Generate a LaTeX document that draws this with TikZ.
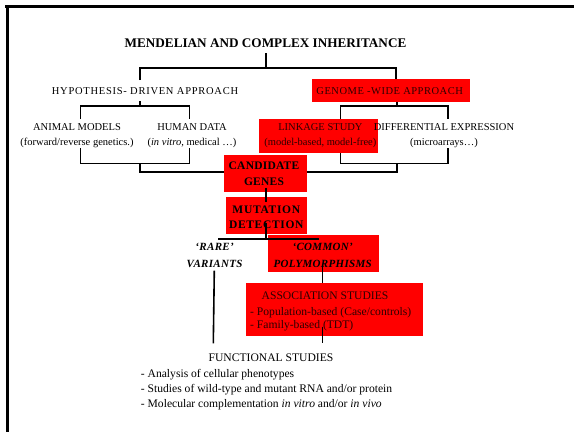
\documentclass[tikz,border=0pt]{standalone}
\usepackage{fontspec}
\setmainfont{Liberation Serif}
\definecolor{boxred}{RGB}{255,0,0}
\definecolor{ontext}{RGB}{45,0,0}
\begin{document}
\begin{tikzpicture}[x=1pt,y=-1pt,
  conn/.style={line width=1.6pt},
  redbox/.style={fill=boxred, inner sep=0pt, draw=none},
  txt/.style={inner sep=0pt, align=center, font=\fontsize{10.5}{15}\selectfont},
  ltxt/.style={inner sep=0pt, align=center, font=\fontsize{11.6}{15}\selectfont},
  btxt/.style={inner sep=0pt, align=center, font=\fontsize{11.5}{15.5}\selectfont\bfseries\addfontfeature{LetterSpace=6}},
  bitxt/.style={inner sep=0pt, align=center, font=\fontsize{11}{16.7}\selectfont\bfseries\itshape\addfontfeature{LetterSpace=3}},
  wtxt/.style={inner sep=0pt, anchor=west, font=\fontsize{11.6}{12}\selectfont}]
\useasboundingbox (0,0) rectangle (574,432);
% frame
\fill (5,5) rectangle (574,7.5);
\fill (6,5) rectangle (8.5,432);

% red boxes
\node[redbox, minimum width=158.3, minimum height=22.7] (gwbox) at (390.85,90.35) {};
\node[redbox, minimum width=118.4, minimum height=34.3] (linkbox) at (318.5,136.2) {};
\node[redbox, minimum width=82.7, minimum height=36.7] (candbox) at (265.35,173.35) {};
\node[redbox, minimum width=81, minimum height=37.3] (mutbox) at (266.2,215.35) {};
\node[redbox, minimum width=111.6, minimum height=36.7] (combox) at (323.5,253.35) {};
\node[redbox, minimum width=177.3, minimum height=52.4] (assocbox) at (334.65,309.5) {};

% texts
\node[inner sep=0pt, font=\fontsize{13.2}{15}\selectfont\bfseries] (title) at (265.5,42.7) {MENDELIAN AND COMPLEX INHERITANCE};
\node[txt, font=\fontsize{10.5}{15}\selectfont\addfontfeature{LetterSpace=7}] (hyp) at (145,90.7) {HYPOTHESIS- DRIVEN APPROACH};
\node[txt, text=ontext, font=\fontsize{10.5}{15}\selectfont\addfontfeature{LetterSpace=5}] (gw) at (389.7,90.7) {GENOME -WIDE APPROACH};
\node[txt] (animal) at (77,135.8) {ANIMAL MODELS\\(forward/reverse genetics.)};
\node[txt] (human) at (192,135.8) {HUMAN DATA\\(\textit{in vitro}, medical \dots)};
\node[txt, text=ontext] (link) at (320.4,135.8) {LINKAGE STUDY\\(model-based, model-free)};
\node[txt] (diff) at (444,135.8) {DIFFERENTIAL EXPRESSION\\(microarrays\dots)};
\node[btxt, font=\fontsize{11.5}{15.5}\selectfont\bfseries\addfontfeature{LetterSpace=2}] (cand) at (264,173.9) {CANDIDATE\\GENES};
\node[btxt] (mut) at (266.3,217) {MUTATION\\DETECTION};
\node[bitxt] (rare) at (214.6,255.6) {`RARE'\\VARIANTS};
\node[bitxt] (common) at (322.7,255.6) {`COMMON'\\POLYMORPHISMS};
\node[ltxt, text=ontext] (assoc) at (325,296) {ASSOCIATION STUDIES};
\node[wtxt, text=ontext] (pop) at (250,312.7) {- Population-based (Case/controls)};
\node[wtxt, text=ontext] (fam) at (250,326) {- Family-based (TDT)};
\node[ltxt] (func) at (271,357.7) {FUNCTIONAL STUDIES};
\node[wtxt] (f1) at (140.7,374.3) {- Analysis of cellular phenotypes};
\node[wtxt] (f2) at (140.7,390) {- Studies of wild-type and mutant RNA and/or protein};
\node[wtxt] (f3) at (140.7,404.3) {- Molecular complementation \textit{in vitro} and/or \textit{in vivo}};

% junction coordinates
\coordinate (t0) at (266,53);
\coordinate (t1) at (266,67.7);
\coordinate (h1) at (140,67.7);
\coordinate (h2) at (140,80);
\coordinate (g1) at (395.7,67.7);
\coordinate (g2) at (395.7,79);
\coordinate (hb) at (140,101);
\coordinate (hm) at (140,106);
\coordinate (al) at (80.3,106);
\coordinate (ar) at (80.3,119);
\coordinate (bl) at (189.3,106);
\coordinate (br) at (189.3,119);
\coordinate (gb) at (396.7,101.7);
\coordinate (gm) at (396.7,106);
\coordinate (ll) at (340.3,106);
\coordinate (lr) at (340.3,119);
\coordinate (dl) at (447.7,106);
\coordinate (dr) at (447.7,119);
\coordinate (a3) at (80.3,148);
\coordinate (a4) at (80.3,163.3);
\coordinate (b3) at (189.3,148);
\coordinate (b4) at (189.3,163.3);
\coordinate (lm) at (140,163.3);
\coordinate (lm2) at (140,171.7);
\coordinate (ca) at (224,171.7);
\coordinate (l3) at (340.3,153.3);
\coordinate (l4) at (340.3,163.3);
\coordinate (d3) at (447.7,148);
\coordinate (d4) at (447.7,163.3);
\coordinate (rm) at (396.7,163.3);
\coordinate (rm2) at (396.7,171.7);
\coordinate (cb) at (306.7,171.7);
\coordinate (c1) at (266,187.7);
\coordinate (c2) at (266,201.7);
\coordinate (m1) at (266,222.7);
\coordinate (m2) at (266,239);
\coordinate (s1) at (218.3,239);
\coordinate (s2) at (319.3,239);
\coordinate (r1) at (214.3,270.7);
\coordinate (r2) at (213.3,343.3);
\coordinate (p1) at (322.3,265);
\coordinate (p2) at (322.3,283.3);
\coordinate (q1) at (322.3,326.7);
\coordinate (q2) at (322.3,343.3);

% connectors
\draw[conn] (t0) -- (t1);
\draw[conn] (h2) -- (h1) -- (g1) -- (g2);
\draw[conn] (hb) -- (hm);
\draw[conn] (ar) -- (al) -- (bl) -- (br);
\draw[conn] (gb) -- (gm);
\draw[conn] (lr) -- (ll) -- (dl) -- (dr);
\draw[conn] (a3) -- (a4) -- (b4) -- (b3);
\draw[conn] (lm) -- (lm2) -- (ca);
\draw[conn] (l3) -- (l4) -- (d4) -- (d3);
\draw[conn] (rm) -- (rm2) -- (cb);
\draw[conn] (c1) -- (c2);
\draw[conn] (m1) -- (m2);
\draw[conn] (s1) -- (s2);
\draw[conn] (r1) -- (r2);
\draw[conn] (p1) -- (p2);
\draw[conn] (q1) -- (q2);
\end{tikzpicture}
\end{document}
